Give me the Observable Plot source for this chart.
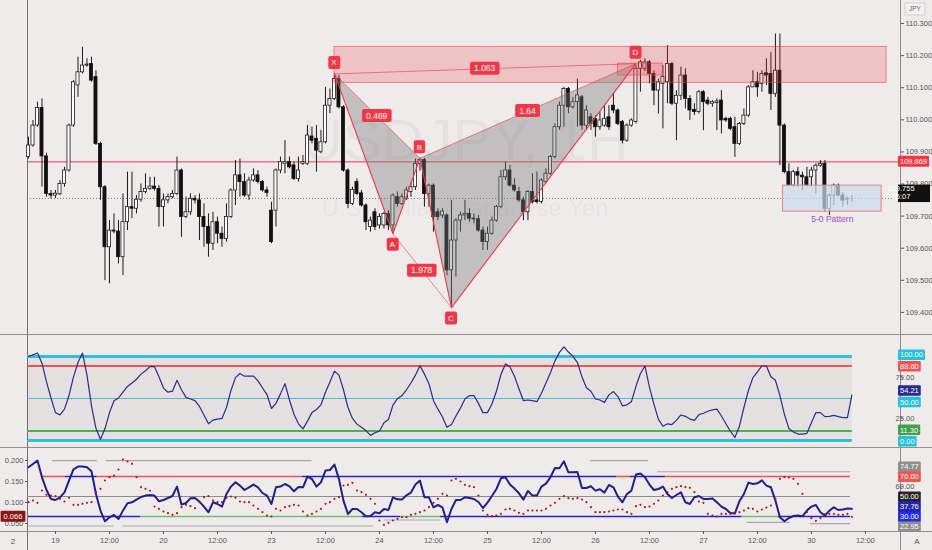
<!DOCTYPE html>
<html><head><meta charset="utf-8">
<script src="https://cdn.jsdelivr.net/npm/d3@7"></script>
<script src="https://cdn.jsdelivr.net/npm/@observablehq/plot@0.6"></script>
<style>
html,body{margin:0;padding:0;background:#eeebea;}
#wrap{position:relative;width:932px;height:550px;overflow:hidden;background:#eeebea;}
</style></head><body><div id="wrap"></div>
<script>
// ---------------- DATA ----------------
const opens = [109.884,109.920,109.982,110.037,109.886,109.769,109.764,109.768,109.800,109.842,
109.982,110.107,110.148,110.169,110.174,110.133,109.925,109.790,109.603,109.655,
109.652,109.572,109.681,109.728,109.723,109.751,109.775,109.785,109.792,109.785,
109.728,109.749,109.759,109.769,109.842,109.697,109.712,109.754,109.749,109.697,
109.666,109.614,109.681,109.645,109.629,109.697,109.780,109.827,109.806,109.764,
109.811,109.827,109.806,109.780,109.717,109.717,109.842,109.863,109.868,109.858,
109.816,109.863,109.863,109.948,109.941,109.899,109.930,110.044,110.065,110.127,
110.039,109.842,109.738,109.806,109.771,109.733,109.666,109.712,109.671,109.671,
109.707,109.671,109.759,109.738,109.754,109.775,109.790,109.863,109.875,109.769,
109.795,109.712,109.702,109.702,109.531,109.624,109.686,109.702,109.707,109.692,
109.690,109.655,109.619,109.645,109.686,109.728,109.821,109.842,109.795,109.775,
109.749,109.712,109.775,109.749,109.744,109.806,109.832,109.884,109.977,110.044,
110.096,110.039,110.055,110.070,109.982,110.008,110.003,109.977,109.982,110.008,
110.044,110.029,109.993,109.935,109.982,109.993,110.159,110.159,110.179,110.143,
110.091,110.112,110.117,110.174,110.050,110.075,110.138,110.065,110.031,110.024,
110.086,110.060,110.050,110.052,110.060,110.003,110.003,109.977,109.925,109.987,
110.013,110.101,110.117,110.112,110.145,110.143,110.081,110.153,109.982,109.837,
109.795,109.837,109.826,109.821,109.821,109.842,109.857,109.863,109.723,109.764,
109.795,109.764,109.751,109.755];
const highs = [109.946,109.998,110.055,110.065,109.896,109.780,109.780,109.811,109.852,109.987,
110.122,110.195,110.226,110.190,110.195,110.153,109.930,109.795,109.686,109.707,
109.686,109.769,109.837,109.837,109.764,109.800,109.832,109.821,109.821,109.795,
109.769,109.769,109.780,109.884,109.847,109.759,109.769,109.764,109.769,109.738,
109.707,109.712,109.697,109.666,109.738,109.785,109.873,109.878,109.832,109.821,
109.847,109.842,109.811,109.790,109.743,109.847,109.884,109.935,109.884,109.868,
109.884,109.889,109.982,109.977,109.982,109.967,110.101,110.096,110.143,110.138,
110.044,109.847,109.790,109.816,109.780,109.738,109.697,109.723,109.707,109.712,
109.717,109.769,109.775,109.769,109.790,109.806,109.878,109.880,109.880,109.800,
109.800,109.723,109.723,109.707,109.749,109.692,109.712,109.749,109.723,109.707,
109.702,109.666,109.666,109.697,109.733,109.842,109.868,109.858,109.816,109.790,
109.759,109.780,109.832,109.837,109.816,109.847,109.889,109.987,110.055,110.101,
110.101,110.070,110.127,110.076,110.044,110.019,110.013,110.024,110.044,110.044,
110.081,110.034,109.998,109.987,110.003,110.170,110.185,110.190,110.185,110.153,
110.127,110.169,110.231,110.179,110.091,110.164,110.159,110.075,110.050,110.091,
110.091,110.070,110.060,110.065,110.091,110.008,110.008,110.008,109.992,110.034,
110.107,110.153,110.148,110.153,110.190,110.210,110.267,110.267,109.987,109.863,
109.842,109.852,109.837,109.852,109.852,109.863,109.873,109.873,109.769,109.800,
109.800,109.774,109.759,109.764];
const lows = [109.878,109.915,109.977,109.790,109.759,109.754,109.755,109.764,109.790,109.837,
109.977,110.070,110.143,110.164,110.117,109.920,109.749,109.499,109.489,109.645,
109.551,109.515,109.655,109.692,109.707,109.743,109.769,109.780,109.778,109.666,
109.666,109.738,109.754,109.764,109.634,109.692,109.702,109.738,109.624,109.603,
109.572,109.593,109.614,109.603,109.619,109.692,109.733,109.759,109.759,109.749,
109.806,109.800,109.775,109.759,109.614,109.666,109.832,109.832,109.847,109.811,
109.806,109.858,109.858,109.925,109.837,109.894,109.925,110.019,110.060,110.034,
109.837,109.723,109.733,109.764,109.728,109.655,109.650,109.655,109.660,109.660,
109.655,109.645,109.728,109.733,109.749,109.759,109.780,109.840,109.728,109.728,
109.650,109.686,109.692,109.515,109.420,109.510,109.650,109.686,109.681,109.676,
109.650,109.593,109.593,109.640,109.681,109.723,109.811,109.790,109.775,109.743,
109.686,109.686,109.738,109.738,109.738,109.801,109.827,109.878,109.967,109.977,
110.019,110.034,109.977,109.967,109.967,109.967,109.946,109.967,109.977,109.967,
110.019,109.982,109.925,109.930,109.977,109.987,110.086,110.150,110.112,110.044,
110.018,109.972,110.050,110.044,109.935,110.060,110.034,109.998,110.013,110.018,
109.966,110.044,110.039,109.966,109.956,109.992,109.966,109.883,109.920,109.982,
110.008,110.101,110.070,110.086,110.107,110.029,110.070,109.857,109.832,109.795,
109.790,109.790,109.780,109.790,109.790,109.769,109.852,109.712,109.702,109.733,
109.759,109.728,109.733,109.743];
const closes = [109.920,109.982,110.037,109.886,109.769,109.764,109.770,109.800,109.842,109.982,
110.117,110.148,110.169,110.172,110.122,109.925,109.790,109.603,109.655,109.652,
109.572,109.681,109.728,109.723,109.751,109.775,109.785,109.792,109.785,109.728,
109.749,109.759,109.769,109.842,109.697,109.712,109.754,109.749,109.697,109.666,
109.614,109.681,109.645,109.629,109.697,109.780,109.827,109.806,109.764,109.811,
109.827,109.806,109.780,109.772,109.619,109.842,109.868,109.868,109.852,109.816,
109.842,109.868,109.951,109.935,109.904,109.930,110.044,110.065,110.127,110.039,
109.842,109.738,109.782,109.769,109.733,109.681,109.686,109.666,109.697,109.707,
109.671,109.764,109.738,109.759,109.780,109.790,109.863,109.875,109.769,109.795,
109.697,109.697,109.714,109.531,109.624,109.686,109.702,109.707,109.692,109.690,
109.655,109.619,109.645,109.686,109.728,109.821,109.842,109.795,109.780,109.749,
109.712,109.775,109.743,109.744,109.811,109.832,109.884,109.977,110.044,110.096,
110.039,110.055,110.076,109.982,110.029,109.987,109.977,109.998,110.003,109.977,
110.029,109.987,109.935,109.982,109.998,110.159,110.179,110.179,110.143,110.091,
110.117,110.133,110.174,110.050,110.075,110.138,110.065,110.029,110.024,110.086,
110.055,110.050,110.055,110.057,109.998,109.998,109.972,109.925,109.987,110.013,
110.101,110.117,110.101,110.143,110.138,110.081,110.153,109.982,109.837,109.795,
109.837,109.826,109.821,109.795,109.842,109.857,109.863,109.723,109.764,109.795,
109.764,109.748,109.754,109.755];

const stochVals = [100.0,102,104.1,92,69.7,50.6,33.2,30.4,37.3,53.5,
75.8,92.8,104.1,77.8,41.3,14.2,1.6,14.2,33.2,47.4,
50.6,57.5,64.4,68.5,72.9,79,83,87.9,87.9,75.8,
62.4,57.5,58.7,71.7,60.4,51.4,49.4,47.4,40.5,30.4,
19.9,24.3,25.5,26.3,39.3,59.6,74.9,79.8,76.6,76.6,
76.6,70.9,62.8,54.7,38.1,44.2,55.5,67.7,48.2,31.2,
19.9,13.8,23.1,33.2,36.9,42.5,57.5,69.7,82.6,77.8,
60.4,39.3,26.3,19.5,15.8,11.8,6.1,9.3,11,21.1,
25.1,42.1,49.8,53.5,60.4,68.5,77.8,89.1,79,67.7,
47.4,37.3,28,15.8,19.1,29.2,38.5,
49.4,53.5,53.5,44.2,33.2,33.2,43.4,58.7,78.6,91.1,
87.9,76.6,61.6,47.4,48.2,47.4,46.2,56.3,68.5,80.6,
94.8,104.9,111.4,105.3,100.1,92.8,75.8,62.8,58.7,49.4,
48.2,45.4,54.3,58.3,52.3,41.3,42.5,46.2,64.4,79.8,
88.7,63.6,43.4,25.1,17,19.9,19,23.9,30.4,28.8,
25.5,23.9,30.8,32.4,34.8,36.5,37.3,29.2,19.9,11,
3.7,17,39.3,59.6,74.9,81.8,88.7,88.7,75.8,71.7,
53.5,31.2,14.2,10.1,7.7,7.7,8.5,21.1,33.2,33.2,
28.4,28.8,30,28.4,27.2,27.2,54.21];
const stochLevels = [100, 88.6, 50, 11.3, 0];

const oscLine = [79.2,82.5,85.9,69.2,56.5,47.5,46.5,49.2,54.2,65.9,
77.2,79.9,79.9,79.2,75.2,52.5,35.9,25.2,29.2,31.5,
27.5,35.9,43.2,44.2,46.9,49.5,50.9,51.5,50.9,45.2,
46.5,48.5,50.5,59.9,41.9,43.5,48.2,48.5,44.9,39.9,
34.2,44.2,42.5,39.9,52.5,59.9,64.2,60.9,56.5,59.2,
61.9,59.2,53.5,50.9,42.5,59.2,59.9,62.5,60.2,55.2,
59.5,59.2,69.9,67.5,59.9,64.2,75.9,76.5,81.9,67.5,
45.9,32.5,37.5,37.5,34.2,30.2,30.5,34.2,33.2,37.5,
36.5,49.2,47.2,46.9,51.2,53.9,61.9,65.9,49.2,49.2,
39.2,41.5,39.2,24.2,37.5,46.5,46.5,
49.2,48.5,47.5,44.5,38.5,43.9,50.5,57.5,68.2,69.2,
61.9,57.9,53.2,46.9,55.5,50.9,50.9,59.9,62.9,69.2,
78.5,78.2,85.2,74.2,74.2,74.5,58.5,58.5,60.2,55.9,
57.2,53.9,61.5,59.2,49.9,44.2,52.5,55.9,71.9,72.9,
69.2,61.9,56.5,57.5,59.9,52.5,48.5,51.5,54.2,44.2,
42.5,49.2,50.5,47.5,47.5,47.9,44.2,39.9,37.5,33.2,
33.2,45.2,52.5,63.9,62.5,63.2,66.2,60.9,59.2,45.9,
29.2,25.2,28.5,30.5,30.9,30.2,35.9,39.9,41.5,34.2,
30.9,35.9,39.2,36.5,36.9,37.9,37.76];
const oscDots = [0.1008,0.1048,0.0992,0.1286,0.1183,0.1167,0.1151,0.1087,0.1024,0.1111,
0.0944,0.0944,0.0968,0.0992,0.1008,0.1246,0.1325,0.1524,0.1603,0.1643,
0.1786,0.2024,0.1976,0.1921,0.1603,0.1365,0.1325,0.128,0.0905,0.0849,
0.0786,0.0746,0.0706,0.0746,0.0889,0.0944,0.0913,0.0865,0.1008,0.1127,
0.1151,0.1048,0.1008,0.1008,0.1111,0.1143,0.1111,0.1024,0.1008,0.1008,
0.0929,0.0849,0.077,0.069,0.0667,0.0849,0.081,0.0889,0.0913,0.0944,
0.0929,0.0786,0.069,0.073,0.0786,0.0849,0.0968,0.1008,0.1087,0.1127,
0.1405,0.1421,0.1468,0.1286,0.1246,0.1183,0.1087,0.0968,0.0571,0.0468,
0.0516,0.0571,0.0611,0.0651,0.0651,0.0706,0.073,0.077,0.081,0.0889,
0.0992,0.1087,0.1206,0.1167,0.1524,0.1563,0.15,
0.1421,0.1389,0.1365,0.1167,0.081,0.0706,0.0675,0.069,0.073,0.0833,
0.0849,0.081,0.0754,0.073,0.081,0.081,0.081,0.081,0.0849,0.0929,
0.0992,0.1087,0.1151,0.1103,0.1087,0.1103,0.1071,0.1008,0.0889,0.077,
0.077,0.077,0.0786,0.081,0.0833,0.0833,0.077,0.073,0.0913,0.0944,
0.0889,0.0905,0.0968,0.1048,0.1167,0.1246,0.1325,0.1365,0.1389,0.1365,
0.1349,0.1246,0.1024,0.0992,0.073,0.069,0.0667,0.073,0.073,0.073,
0.0738,0.077,0.081,0.0865,0.0849,0.0786,0.0833,0.0881,0.0929,0.1087,
0.1563,0.1603,0.1595,0.1563,0.1444,0.1206,0.077,0.0627,0.0563,0.0627,
0.0722,0.073,0.073,0.0706,0.0706,0.073,0.066];

// level-line segments in the lower panel (bar index ranges)
const seg70Start = [3, 8.2, 15.3, 60.8, 130.8, 133.8, 141.6];
const seg70End   = [8.2, 15.3, 60.8, 130.8, 133.8, 141.6, 182.7];
const seg70Kind  = ["r","b","r","b","r","b","r"];
const seg30Start = [0, 24.9, 74.2, 82.7, 91.6, 158.6, 166.7];
const seg30End   = [24.9, 74.2, 82.7, 91.6, 158.6, 166.7, 182.7];
const seg30Kind  = ["b","g","b","g","b","g","b"];
const grayLevel = [85.9, 85.9, 85.9, 74.77, 20.5, 20.5, 26.5, 24.2, 22.95];
const grayStart = [5.3, 17.3, 124.9, 139.8, 0, 21, 79, 159.7, 173.8];
const grayEnd   = [15.3, 63, 137.8, 182.7, 19, 76.7, 91.6, 169.3, 182.7];

const timeTickIdx = [6,18,30,42,54,66,78,90,102,114,126,138,150,162,174,186];
const timeTickLabels = ["19","12:00","20","12:00","23","12:00","24","12:00","25","12:00","26","12:00","27","12:00","30","12:00"];
const priceTicks = [110.3,110.2,110.1,110.0,109.9,109.8,109.7,109.6,109.5,109.4];
const leftTicks = [0.2,0.15,0.1,0.05];

const patNames = ["X","A","B","C","D"];
const patIdx = [68,81,87,94,135];
const patPrice = [110.143,109.645,109.880,109.415,110.175];
const ratioText = ["0.469","1.978","1.64","1.063"];
const ratioFrom = ["X","A","B","X"];
const ratioTo = ["B","C","D","D"];

const zoneI1 = [68, 131];
const zoneI2 = [190.7, 141];
const zoneP1 = [110.115, 110.138];
const zoneP2 = [110.227, 110.175];
const box50 = {i1: 167.7, i2: 189.6, p1: 109.714, p2: 109.795, label: "5-0 Pattern"};

const levelPrice = 109.869, lastPrice = 109.755, countdown = "55:07";
const stochLabels = [
  {v:100, t:"100.00", bg:"#26bfdc"}, {v:88.6, t:"88.60", bg:"#f05350"}, {v:75, t:"75.00"},
  {v:54.21, t:"54.21", bg:"#2b2b8f"}, {v:50, t:"50.00", bg:"#26bfdc"}, {v:25, t:"25.00"},
  {v:11.3, t:"11.30", bg:"#43a047"}, {v:0, t:"0.00", bg:"#26bfdc"}];
const oscLabels = [
  {v:74.77, t:"74.77", bg:"#8e8e8e"}, {v:70, t:"70.00", bg:"#f05350"}, {v:60, t:"60.00"},
  {v:50, t:"50.00", bg:"#262626"}, {v:37.76, t:"37.76", bg:"#2525b5"}, {v:30, t:"30.00", bg:"#1f2ee8"},
  {v:22.95, t:"22.95", bg:"#8e8e8e"}];

// ---------------- LAYOUT ----------------
const FONT = "'Liberation Sans', Arial, sans-serif";
const W = 932, ML = 27, MR = 32;
const XD = [-0.22, 193.8];
const RSI_END = 183.1;
const RED = "#f23645";
const wrap = document.getElementById("wrap");
const STYLE = {background: "transparent", overflow: "visible", fontFamily: FONT};

function place(el, top) { el.style.position = "absolute"; el.style.left = "0px"; el.style.top = top + "px"; wrap.appendChild(el); return el; }

// frame chrome (behind)
const frame = d3.create("svg").attr("width", W).attr("height", 550).node();
place(frame, 0);
{
  const f = d3.select(frame);
  f.append("line").attr("x1", 27.5).attr("x2", 27.5).attr("y1", 0).attr("y2", 550).attr("stroke", "#6f6f6f");
  f.append("line").attr("x1", 900.5).attr("x2", 900.5).attr("y1", 0).attr("y2", 550).attr("stroke", "#8a8a8a");
  for (const y of [334.5, 447.5, 531.5]) f.append("line").attr("x1", 0).attr("x2", W).attr("y1", y).attr("y2", y).attr("stroke", "#8e8e8e");
  f.append("text").attr("x", 13).attr("y", 541).attr("dy", "0.35em").attr("text-anchor", "middle").attr("font-size", 8).attr("font-family", FONT).attr("fill", "#555").text("2");
  f.append("text").attr("x", 917).attr("y", 541).attr("dy", "0.35em").attr("text-anchor", "middle").attr("font-size", 8).attr("font-family", FONT).attr("fill", "#555").text("A");
  f.append("rect").attr("x", 905).attr("y", 3).attr("width", 20).attr("height", 12).attr("fill", "#f4f2f1").attr("stroke", "#cfcfcf");
  f.append("text").attr("x", 915).attr("y", 9).attr("dy", "0.35em").attr("text-anchor", "middle").attr("font-size", 6.5).attr("font-family", FONT).attr("fill", "#666").text("JPY");
}

function tag(svgEl, x, y, text, o) {
  const g = d3.select(svgEl).append("g");
  const t = g.append("text").attr("x", x).attr("y", y).attr("dy", "0.36em")
    .attr("fill", o.fg || "#fff").attr("font-size", o.fs || 8).attr("font-family", FONT)
    .attr("text-anchor", o.anchor || "middle").text(text);
  const bb = t.node().getBBox();
  const px = o.padX ?? 3, h = o.h || 12;
  g.insert("rect", "text").attr("x", bb.x - px).attr("y", y - h / 2).attr("width", bb.width + 2 * px)
    .attr("height", h).attr("rx", o.rx ?? 2).attr("fill", o.bg);
}
function relax(arr, gap) {
  arr.sort((a, b) => a.y - b.y);
  for (let k = 0; k < 60; k++) {
    let moved = false;
    for (let j = 1; j < arr.length; j++) {
      const d = arr[j].y - arr[j - 1].y;
      if (d < gap - 0.01) { const s = (gap - d) / 2; arr[j - 1].y -= s; arr[j].y += s; moved = true; }
    }
    if (!moved) break;
  }
}
function rightLabels(chart, items, gap) {
  const sy = chart.scale("y");
  const arr = items.map(d => ({...d, y: sy.apply(d.v)}));
  relax(arr, gap);
  const s = d3.select(chart);
  for (const d of arr) {
    if (d.bg) tag(chart, 900, d.y, d.t, {bg: d.bg, anchor: "start", fs: 7.5, h: 10.5, padX: 2, rx: 1});
    else {
      s.append("line").attr("x1", 900).attr("x2", 903).attr("y1", d.y).attr("y2", d.y).attr("stroke", "#777");
      s.append("text").attr("x", 905).attr("y", d.y).attr("dy", "0.36em").attr("font-size", 7.5).attr("font-family", FONT).attr("fill", "#555").text(d.t);
    }
  }
}

// ---------------- MAIN PRICE PANEL ----------------
const candles = opens.map((o, i) => ({i, o, h: highs[i], l: lows[i], c: closes[i]}));
const upC = candles.filter(d => d.c >= d.o), dnC = candles.filter(d => d.c < d.o);
const pts = patNames.map((n, k) => ({n, i: patIdx[k], p: patPrice[k]}));
const P = Object.fromEntries(pts.map(d => [d.n, d]));
const ratios = ratioText.map((t, k) => ({t, a: P[ratioFrom[k]], b: P[ratioTo[k]]}));
const zones = zoneI1.map((v, k) => ({i1: v, i2: zoneI2[k], p1: zoneP1[k], p2: zoneP2[k]}));

const main = Plot.plot({
  width: W, height: 334, marginLeft: ML, marginRight: MR, marginTop: 0, marginBottom: 0,
  style: STYLE,
  x: {domain: XD, axis: null},
  y: {domain: [109.3312, 110.3717]},
  marks: [
    Plot.ruleY([lastPrice], {x1: XD[0], x2: XD[1], stroke: "#7a7a7a", strokeWidth: 1, strokeDasharray: "1,2"}),
    Plot.ruleY([levelPrice], {x1: XD[0], x2: XD[1], stroke: RED, strokeWidth: 1}),
    Plot.ruleX(candles, {x: "i", y1: "l", y2: "h", stroke: "#1a1a1a", strokeWidth: 1}),
    Plot.rect(upC, {x1: d => d.i - 0.34, x2: d => d.i + 0.34, y1: "o", y2: "c", fill: "#ffffff", stroke: "#1a1a1a", strokeWidth: 0.8}),
    Plot.rect(dnC, {x1: d => d.i - 0.34, x2: d => d.i + 0.34, y1: "o", y2: "c", fill: "#111", stroke: "#111", strokeWidth: 0.8}),
    Plot.rect(zones, {x1: "i1", x2: "i2", y1: "p1", y2: "p2", fill: RED, fillOpacity: 0.22, stroke: RED, strokeOpacity: 0.55, strokeWidth: 1}),
    Plot.rect([box50], {x1: "i1", x2: "i2", y1: "p1", y2: "p2", fill: "#c9dcf0", fillOpacity: 0.7, stroke: "#ee7f86", strokeWidth: 1}),
    Plot.line([P.X, P.A, P.B], {x: "i", y: "p", fill: "#7a7a7a", fillOpacity: 0.38, stroke: "none"}),
    Plot.line([P.B, P.C, P.D], {x: "i", y: "p", fill: "#7a7a7a", fillOpacity: 0.38, stroke: "none"}),
    Plot.link(ratios, {x1: d => d.a.i, y1: d => d.a.p, x2: d => d.b.i, y2: d => d.b.p, stroke: RED, strokeWidth: 0.8, strokeOpacity: 0.75}),
    Plot.line(pts, {x: "i", y: "p", stroke: RED, strokeWidth: 1.1}),
    Plot.text([box50], {x: d => (d.i1 + d.i2) / 2, y: "p1", text: "label", dy: 8, fill: "#a050c8", fontSize: 8.5, fontFamily: FONT}),
    Plot.axisY(priceTicks, {anchor: "right", tickFormat: d3.format(".3f"), tickSize: 3, tickPadding: 2, fontSize: 7.5, color: "#555", fontFamily: FONT})
  ]
});
place(main, 0);
{
  const sx = main.scale("x"), sy = main.scale("y");
  const s = d3.select(main);
  s.insert("text", "g").attr("x", 465).attr("y", 160).attr("text-anchor", "middle").attr("font-size", 58).attr("font-family", FONT).attr("fill", "#000").attr("fill-opacity", 0.04).text("USDJPY, 1H");
  s.insert("text", "g").attr("x", 465).attr("y", 216).attr("text-anchor", "middle").attr("font-size", 24).attr("font-family", FONT).attr("fill", "#000").attr("fill-opacity", 0.04).text("U.S. Dollar / Japanese Yen");
  for (const r of ratios) {
    tag(main, (sx.apply(r.a.i) + sx.apply(r.b.i)) / 2, (sy.apply(r.a.p) + sy.apply(r.b.p)) / 2, r.t, {bg: RED, fs: 8.5, h: 13, padX: 4});
  }
  for (const p of pts) {
    const up = (p.n === "X" || p.n === "B" || p.n === "D");
    tag(main, sx.apply(p.i), sy.apply(p.p) + (up ? -11 : 11), p.n, {bg: RED, fs: 8, h: 13, padX: 3});
  }
  tag(main, 900, sy.apply(levelPrice), levelPrice.toFixed(3), {bg: RED, anchor: "start", fs: 7.5, h: 11, padX: 2, rx: 1});
  const y0 = sy.apply(lastPrice);
  const g = s.append("g");
  g.append("rect").attr("x", 898).attr("y", y0 - 13.4).attr("width", 32).attr("height", 17.5).attr("fill", "#111111");
  g.append("text").attr("x", 901).attr("y", y0 - 9.2).attr("dy", "0.36em").attr("font-size", 7.5).attr("font-family", FONT).attr("fill", "#ffffff").text(lastPrice.toFixed(3));
  g.append("text").attr("x", 901).attr("y", y0 - 1.4).attr("dy", "0.36em").attr("font-size", 7.5).attr("font-family", FONT).attr("fill", "#ffffff").text(countdown);
}

// ---------------- STOCH PANEL ----------------
const stoch = Plot.plot({
  width: W, height: 112, marginLeft: ML, marginRight: MR, marginTop: 0, marginBottom: 0,
  style: STYLE,
  x: {domain: XD, axis: null},
  y: {domain: [-7.14, 126.19], axis: null},
  marks: [
    Plot.rect([{a: 0, b: 100}], {x1: XD[0], x2: RSI_END, y1: "a", y2: "b", fill: "#000", fillOpacity: 0.045}),
    Plot.ruleY([stochLevels[0], stochLevels[4]], {x1: XD[0], x2: RSI_END, stroke: "#2ec0de", strokeWidth: 3}),
    Plot.ruleY([stochLevels[1]], {x1: XD[0], x2: RSI_END, stroke: "#ef5350", strokeWidth: 2}),
    Plot.ruleY([stochLevels[2]], {x1: XD[0], x2: RSI_END, stroke: "#4aaee0", strokeWidth: 0.9}),
    Plot.ruleY([stochLevels[3]], {x1: XD[0], x2: RSI_END, stroke: "#4caf50", strokeWidth: 2}),
    Plot.line(stochVals, {x: (d, i) => i, y: d => d, stroke: "#2b2b8c", strokeWidth: 1.2})
  ]
});
place(stoch, 334);
rightLabels(stoch, stochLabels, 11.5);

// ---------------- LOWER OSC PANEL ----------------
const colorOf = {r: "#f05350", b: "#2424d0", g: "#6fbf73"};
const segs = [
  ...seg70Start.map((a, k) => ({lvl: 70, a, b: seg70End[k], c: colorOf[seg70Kind[k]]})),
  ...seg30Start.map((a, k) => ({lvl: 30, a, b: seg30End[k], c: colorOf[seg30Kind[k]]}))
];
const grays = grayLevel.map((lvl, k) => ({lvl, a: grayStart[k], b: grayEnd[k]}));
const tickLabelOf = new Map(timeTickIdx.map((d, k) => [d, timeTickLabels[k]]));

const low = Plot.plot({
  width: W, height: 104, marginLeft: ML, marginRight: MR, marginTop: 0, marginBottom: 19,
  style: STYLE,
  x: {domain: XD},
  y: {domain: [15, 100], axis: null},
  color: {type: "identity"},
  marks: [
    Plot.ruleY(grays, {y: "lvl", x1: "a", x2: "b", stroke: "#a9a9a9", strokeWidth: 1.2}),
    Plot.ruleY([50], {x1: XD[0], x2: 182.7, stroke: "#8d8d8d", strokeWidth: 1.1}),
    Plot.ruleY(segs, {y: "lvl", x1: "a", x2: "b", stroke: "c", strokeWidth: 1.6}),
    Plot.line(oscLine, {x: (d, i) => i, y: d => d, stroke: "#1f1f8f", strokeWidth: 2}),
    Plot.axisX(timeTickIdx, {anchor: "bottom", tickFormat: d => tickLabelOf.get(d), tickSize: 3, tickPadding: 3, fontSize: 7.5, color: "#555", fontFamily: FONT})
  ]
});
place(low, 446);
rightLabels(low, oscLabels, 10);

const dots = Plot.plot({
  width: W, height: 104, marginLeft: ML, marginRight: MR, marginTop: 0, marginBottom: 19,
  style: STYLE,
  x: {domain: XD, axis: null},
  y: {domain: [0.03095, 0.2333]},
  marks: [
    Plot.dot(oscDots, {x: (d, i) => i, y: d => d, r: 1.1, fill: "#b3171d", stroke: "none"}),
    Plot.axisY(leftTicks, {anchor: "left", tickFormat: d3.format(".3f"), tickSize: 2, tickPadding: 2, fontSize: 7.5, color: "#555", fontFamily: FONT})
  ]
});
place(dots, 446);
{
  const sy = dots.scale("y");
  tag(dots, 13, sy.apply(oscDots[oscDots.length - 1]), oscDots[oscDots.length - 1].toFixed(3), {bg: "#8b1515", fs: 7.5, h: 11, padX: 3, rx: 1});
}
</script></body></html>
